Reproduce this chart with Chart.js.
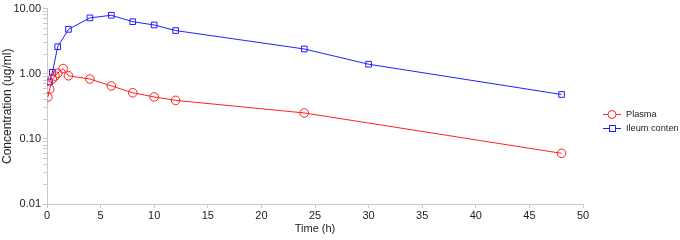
<!DOCTYPE html>
<html><head><meta charset="utf-8">
<script src="https://cdn.jsdelivr.net/npm/chart.js@4/dist/chart.umd.min.js"></script>
<style>
html,body{margin:0;padding:0;background:#fff;}
#wrap{position:relative;width:680px;height:240px;overflow:hidden;}
#legend{position:absolute;left:603px;top:107px;font:9.2px "Liberation Sans",Arial,sans-serif;color:#222;}
.item{display:flex;align-items:center;height:14px;white-space:nowrap;}
.item canvas{margin-right:5px;}
</style></head>
<body><div id="wrap"><canvas id="c" width="680" height="240"></canvas>
<div id="legend"></div></div>
<script>
const plasmaTime = [0.083, 0.25, 0.5, 0.75, 1, 1.5, 2, 4, 6, 8, 10, 12, 24, 48];
const plasmaConc = [0.44, 0.58, 0.83, 0.92, 1.02, 1.2, 0.93, 0.83, 0.65, 0.51, 0.44, 0.39, 0.25, 0.06];
const ileumTime = [0.25, 0.5, 1, 2, 4, 6, 8, 10, 12, 24, 30, 48];
const ileumConc = [0.75, 1.05, 2.6, 4.8, 7.2, 7.9, 6.3, 5.6, 4.6, 2.4, 1.4, 0.48];
const xTicks = [0,5,10,15,20,25,30,35,40,45,50];
const yTicks = [0.01, 0.1, 1, 10];
const seriesNames = ['Plasma', 'Ileum conten'];

const FONT = '"Liberation Sans", Arial, sans-serif';
const toPts = (xs, ys) => xs.map((x,i)=>({x, y: ys[i]}));
const isDecade = v => yTicks.some(t => Math.abs(t - v) / t < 1e-6);
// minor tick positions between the decade ticks (1..9 x each decade)
const yAllTicks = [];
yTicks.forEach((t,i) => { if (i < yTicks.length-1) { for (let k=1;k<10;k++) yAllTicks.push(+(t*k).toPrecision(6)); } else yAllTicks.push(t); });

new Chart(document.getElementById('c'), {
  type: 'scatter',
  data: { datasets: [
    { label: seriesNames[0], data: toPts(plasmaTime, plasmaConc), showLine: true,
      borderColor: '#ff2020', backgroundColor: 'rgba(0,0,0,0)', borderWidth: 1,
      pointStyle: 'circle', pointRadius: 4.3, pointBorderWidth: 1, pointBorderColor: '#ff2020' },
    { label: seriesNames[1], data: toPts(ileumTime, ileumConc), showLine: true,
      borderColor: '#2020ff', backgroundColor: 'rgba(0,0,0,0)', borderWidth: 1,
      pointStyle: 'rect', pointRadius: 4, pointBorderWidth: 1, pointBorderColor: '#2020ff' }
  ]},
  options: {
    responsive: false, animation: false,
    layout: { padding: { left: 0, right: 97, top: 0, bottom: 0 } },
    plugins: { legend: { display: false }, tooltip: { enabled: false } },
    scales: {
      x: { type: 'linear', min: 0, max: 50,
        afterBuildTicks: s => { s.ticks = xTicks.map(v=>({value:v})); },
        afterFit: s => { s.height = 36; },
        grid: { drawOnChartArea: false, drawTicks: true, tickLength: 4, color: '#c8c8c8' },
        border: { color: '#c8c8c8' },
        ticks: { color: '#222', font: { family: FONT, size: 11 }, padding: 1, maxRotation: 0 },
        title: { display: true, text: 'Time (h)', color: '#222', font: { family: FONT, size: 11 }, padding: { top: 1, bottom: 4 } }
      },
      y: { type: 'logarithmic', min: 0.01, max: 10,
        afterBuildTicks: s => { s.ticks = yAllTicks.map(v=>({value:v, major: isDecade(v)})); },
        afterFit: s => { s.width = 47; },
        grid: { drawOnChartArea: false, drawTicks: true, tickLength: 4, color: '#c8c8c8' },
        border: { color: '#c8c8c8' },
        ticks: { autoSkip: false, color: '#222', font: { family: FONT, size: 11 }, padding: 2,
          callback: v => isDecade(v) ? v.toFixed(2) : '' },
        title: { display: true, text: 'Concentration (ug/ml)', color: '#222', font: { family: FONT, size: 12 }, padding: { top: 0, bottom: 2 } }
      }
    }
  }
});

// HTML legend
const leg = document.getElementById('legend');
const styles = [{c:'#ff2020', s:'circle'}, {c:'#2020ff', s:'rect'}];
seriesNames.forEach((n,i)=>{
  const d = document.createElement('div'); d.className='item';
  const cv = document.createElement('canvas'); cv.width=18; cv.height=12;
  const g = cv.getContext('2d'); g.strokeStyle=styles[i].c; g.lineWidth=1;
  g.beginPath(); g.moveTo(0,6.5); g.lineTo(18,6.5); g.stroke();
  g.fillStyle='#fff';
  if(styles[i].s==='circle'){ g.beginPath(); g.arc(9,6.5,4,0,Math.PI*2); g.fill(); g.stroke(); }
  else { g.fillRect(6,3.5,6,6); g.strokeRect(6.5,3.5,6,6); }
  d.appendChild(cv);
  const t = document.createElement('span'); t.textContent = n; d.appendChild(t);
  leg.appendChild(d);
});
</script></body></html>
